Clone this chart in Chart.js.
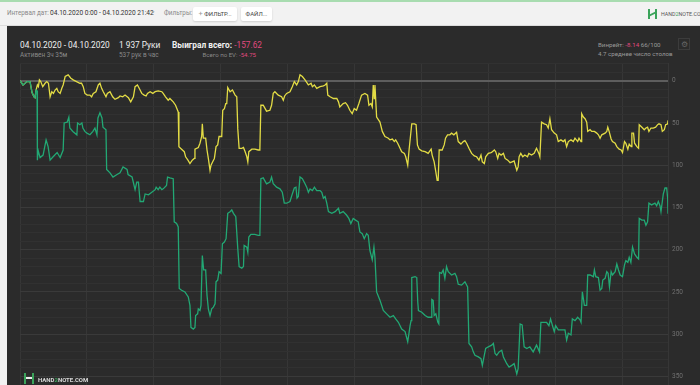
<!DOCTYPE html>
<html><head><meta charset="utf-8">
<script src="https://cdn.jsdelivr.net/npm/chart.js@4.4.1/dist/chart.umd.min.js"></script>
<style>
html,body{margin:0;padding:0;width:700px;height:385px;overflow:hidden;background:#f2f2f2;font-family:Roboto,"Noto Sans",sans-serif;}
#topline{position:absolute;left:0;top:0;width:700px;height:2px;background:#a8dcb0;}
#bar{position:absolute;left:0;top:2px;width:700px;height:23px;background:#f2f2f2;border-bottom:1px solid #dcdcdc;}
.t{position:absolute;white-space:nowrap;}
#panel{position:absolute;left:7px;top:26px;width:693px;height:359px;background:#2b2b2b;}
#wrap{position:absolute;left:0;top:0;width:700px;height:400px;}
.btn{position:absolute;height:14px;background:#fff;border-radius:2px;box-shadow:0 1px 2px rgba(0,0,0,0.15);font-size:6px;color:#444;line-height:14px;text-align:center;}
.pink{color:#e0497f;}
</style></head>
<body>
<div id="topline"></div>
<div id="bar">
  <div class="t" style="left:7px;top:7px;font-size:6.3px;color:#888;">Интервал дат:</div>
  <div class="t" style="left:50px;top:6.5px;font-size:6.6px;color:#333;">04.10.2020 0:00 - 04.10.2020 21:42</div>
  <div class="t" style="left:150px;top:5px;font-size:7px;color:#999;">⌄</div>
  <div class="t" style="left:164px;top:7px;font-size:6.3px;color:#888;">Фильтры:</div>
  <div class="btn" style="left:193px;width:44px;top:5px;"><span style="color:#999;font-size:7.5px;">+</span> ФИЛЬТР...</div>
  <div class="btn" style="left:241px;width:31px;top:5px;">ФАЙЛ...</div>
  <div class="t" style="left:648px;top:7px;width:9px;height:10px;border-left:2px solid #3aa35a;border-right:2px solid #3aa35a;box-sizing:border-box;"></div>
  <div class="t" style="left:649px;top:11px;width:7px;height:2px;background:#3aa35a;transform:skewY(-25deg);"></div>
  <div class="t" style="left:661px;top:8.5px;font-size:5.3px;color:#555;">HAND<span style="color:#3aa35a;">2</span>NOTE.COM</div>
</div>
<div id="panel"></div>
<div class="t" style="left:20px;top:40px;font-size:8.3px;color:#f0f0f0;">04.10.2020 - 04.10.2020</div>
<div class="t" style="left:20px;top:51px;font-size:6.4px;color:#8a8a8a;">Активен 3ч 35м</div>
<div class="t" style="left:119px;top:40px;font-size:8.3px;color:#f0f0f0;">1 937 Руки</div>
<div class="t" style="left:119px;top:51px;font-size:6.4px;color:#8a8a8a;">537 рук в час</div>
<div class="t" style="left:172px;top:40px;font-size:8.3px;color:#f0f0f0;font-weight:bold;">Выиграл всего: <span class="pink" style="font-weight:normal;">-157.62</span></div>
<div class="t" style="right:444px;top:51px;font-size:6.1px;color:#8a8a8a;">Всего по EV: <span class="pink">-54.75</span></div>
<div class="t" style="left:598px;top:41px;font-size:6.2px;color:#9a9a9a;">Винрейт: <span class="pink">-8.14</span> 66/100</div>
<div class="t" style="left:598px;top:50px;font-size:6.2px;color:#9a9a9a;">4.7 среднее число столов</div>
<div class="t" style="left:678px;top:38px;width:12px;height:12px;border:1px solid #3c3c3c;box-sizing:border-box;font-size:8px;color:#666;text-align:center;line-height:11px;">⚙</div>
<div id="wrap"><canvas id="c" width="700" height="400"></canvas></div>
<div class="t" style="left:24px;top:373px;width:10px;height:11px;border-left:2px solid #3aa35a;border-right:2px solid #3aa35a;box-sizing:border-box;"></div>
<div class="t" style="left:26px;top:377px;width:6px;height:2px;background:#eee;"></div>
<div class="t" style="left:38px;top:375.5px;font-size:6px;color:#d8d8d8;font-weight:bold;">HAND<span style="color:#3aa35a;">2</span>NOTE.COM</div>
<script>
const greenHands = [0,9,21,30,36,42,45,48,51,52,54,60,69,78,84,90,99,111,120,129,132,141,146,149,158,170,172,179,185,188,194,200,209,218,224,230,233,239,245,248,257,259,269,278,290,299,308,320,323,335,344,349,354,359,369,374,384,394,404,407,413,418,424,428,438,441,448,458,461,468,473,476,483,493,503,508,511,518,523,525,531,533,538,541,545,549,555,559,563,568,573,578,583,586,591,595,601,605,611,616,621,628,633,638,645,651,655,663,668,670,678,681,684,690,702,712,717,720,727,737,747,752,757,767,777,784,790,797,807,814,820,825,828,832,837,844,852,857,862,867,874,880,887,897,902,907,912,917,922,932,942,952,956,966,976,983,989,996,1003,1011,1016,1023,1029,1036,1041,1046,1053,1058,1061,1066,1076,1086,1096,1106,1116,1123,1131,1141,1151,1159,1166,1169,1171,1181,1186,1189,1191,1201,1211,1220,1229,1231,1235,1238,1243,1249,1252,1254,1260,1265,1270,1275,1280,1290,1300,1305,1310,1320,1330,1338,1342,1350,1355,1360,1370,1378,1382,1388,1392,1400,1410,1415,1420,1425,1432,1440,1445,1455,1462,1470,1477,1485,1489,1495,1501,1507,1515,1524,1534,1544,1553,1557,1574,1581,1586,1591,1597,1601,1609,1619,1629,1634,1639,1647,1651,1659,1667,1674,1677,1681,1687,1694,1697,1704,1714,1717,1721,1729,1734,1739,1742,1749,1754,1758,1762,1767,1771,1779,1784,1789,1794,1801,1807,1811,1817,1821,1826,1831,1837,1844,1849,1851,1859,1866,1871,1876,1880,1888,1898,1903,1908,1913,1916,1920,1923,1928,1933,1936,1937];
const greenValues = [0,5,1,1,14,19,20,11,12,94,82,91,88,70,78,94,90,85,91,82,50,49,43,56,60,64,50,52,50,56,60,62,64,60,56,64,44,38,44,55,58,105,109,114,111,109,102,105,111,114,129,120,120,143,143,134,135,132,129,126,129,126,129,128,124,114,115,116,167,169,173,246,248,250,256,266,292,294,292,278,276,270,272,266,207,224,224,254,270,278,270,268,264,238,236,226,228,193,191,187,157,155,153,157,161,199,220,222,220,195,197,203,185,182,182,183,183,116,115,122,120,114,122,126,128,132,145,145,143,134,127,126,139,137,114,116,122,126,132,128,130,126,130,130,132,139,137,145,155,157,155,151,157,155,159,163,169,163,165,167,179,181,187,181,183,201,212,197,209,250,260,272,276,280,278,282,286,294,297,309,290,284,233,232,233,262,272,274,278,280,280,259,260,278,276,286,288,227,228,224,234,220,226,230,228,232,241,242,238,244,311,315,321,325,327,329,337,325,317,315,313,311,323,325,321,319,327,335,339,337,335,347,341,288,289,315,317,315,321,313,321,286,286,290,282,289,297,290,295,295,295,307,299,301,282,284,280,283,286,250,266,266,230,230,232,224,232,233,248,246,236,234,226,228,244,226,230,226,217,224,230,232,218,213,215,209,215,197,205,209,211,163,165,165,171,167,145,147,145,148,143,148,155,143,134,127,127,139,157.6];
const yellowHands = [0,9,21,30,36,42,45,48,52,55,58,62,68,75,80,85,90,95,100,105,110,114,120,125,129,135,144,152,159,169,179,184,189,194,201,209,214,219,227,234,239,244,249,257,261,269,277,284,294,299,307,314,324,331,339,344,351,359,364,371,377,381,389,397,404,413,424,428,435,443,448,458,465,473,475,483,491,495,502,508,515,521,523,533,538,543,545,548,555,559,563,568,571,576,581,586,591,595,603,606,611,615,618,621,628,635,643,648,651,655,663,668,673,678,681,684,693,702,712,717,720,727,737,747,752,757,762,772,782,787,791,797,807,814,820,827,832,837,844,852,862,870,874,880,887,897,907,912,917,920,927,937,947,952,956,966,973,979,986,993,999,1006,1013,1021,1031,1039,1043,1049,1053,1056,1059,1061,1066,1076,1083,1091,1101,1106,1113,1119,1123,1129,1136,1141,1149,1153,1159,1163,1171,1179,1184,1188,1193,1201,1211,1220,1229,1232,1238,1243,1247,1250,1253,1262,1268,1272,1278,1285,1290,1297,1305,1310,1318,1325,1330,1335,1342,1350,1358,1365,1372,1378,1382,1388,1392,1400,1408,1412,1418,1422,1428,1432,1438,1445,1450,1458,1465,1471,1477,1485,1489,1492,1497,1503,1509,1517,1521,1529,1537,1544,1551,1554,1559,1567,1574,1579,1584,1589,1597,1604,1609,1617,1624,1629,1634,1639,1647,1654,1659,1667,1671,1677,1679,1684,1689,1694,1697,1704,1709,1717,1724,1729,1734,1739,1749,1754,1757,1761,1767,1771,1779,1784,1791,1797,1801,1807,1811,1817,1821,1827,1829,1834,1837,1844,1849,1851,1859,1866,1871,1876,1880,1886,1893,1900,1906,1910,1916,1920,1926,1930,1936,1937];
const yellowValues = [0,5,1,1,14,19,20,11,5,7,-1,1,7,3,1,3,19,13,15,11,9,13,15,9,5,-5,-7,-3,-1,1,3,3,7,15,17,17,19,15,13,5,3,9,13,19,15,13,19,22,20,18,19,17,20,25,19,7,5,11,15,17,18,15,13,15,13,12,13,15,19,23,21,25,29,37,78,81,84,90,94,98,94,92,81,79,74,66,51,68,68,82,92,106,100,96,92,78,76,66,66,35,33,27,27,8,13,11,17,19,57,80,80,79,84,90,96,84,81,81,82,82,29,29,36,35,29,15,13,17,19,23,18,15,13,7,1,5,1,-7,-5,-1,5,3,7,5,9,7,6,5,3,17,19,21,21,25,31,27,26,29,35,39,33,35,27,17,15,17,29,27,31,5,21,5,43,49,60,66,68,70,69,72,70,74,80,84,86,90,100,82,51,51,52,76,81,83,84,86,81,88,96,108,118,118,82,82,76,68,64,64,62,64,61,72,75,72,71,74,80,86,89,90,94,88,96,98,90,86,85,84,82,84,92,86,88,86,92,94,97,96,95,106,102,90,86,90,88,90,86,88,86,80,86,90,49,51,52,56,45,58,62,64,72,70,72,70,78,72,70,72,68,72,68,72,39,43,45,49,60,58,60,60,62,64,68,64,62,60,55,60,69,72,74,78,81,82,85,72,74,81,75,78,62,62,74,78,80,52,55,58,56,55,60,56,56,55,52,51,52,60,58,52,51,47];
const yTickLabels = [0,50,100,150,200,250,300,350];

const toPts = (xs, ys) => xs.map((h, i) => ({x: h, y: ys[i]}));

new Chart(document.getElementById('c'), {
  type: 'line',
  data: {
    datasets: [
      {label: 'Won', data: toPts(greenHands, greenValues), borderColor: '#22a874', borderWidth: 1.3, pointRadius: 0, tension: 0, fill: false},
      {label: 'EV', data: toPts(yellowHands, yellowValues), borderColor: '#e3dc45', borderWidth: 1.3, pointRadius: 0, tension: 0, fill: false}
    ]
  },
  options: {
    responsive: false, animation: false,
    layout: {padding: {left: 20, top: 63, right: 0, bottom: 13.5}},
    plugins: {legend: {display: false}, tooltip: {enabled: false}},
    scales: {
      x: {type: 'linear', min: 0, max: 1937,
          ticks: {display: false, stepSize: 200},
          grid: {color: '#363636', lineWidth: 1, drawTicks: false},
          border: {display: false},
          afterFit: s => { s.height = 0; }},
      y: {type: 'linear', position: 'right', reverse: true, min: -21, max: 362,
          ticks: {stepSize: 10, padding: 4, autoSkip: false, color: '#707070', font: {family: 'Roboto', size: 6.5},
                  callback: v => yTickLabels.includes(v) ? String(v) : ''},
          grid: {drawTicks: false,
                 color: c => c.tick.value === 0 ? '#5e5e5e' : (c.tick.value % 50 === 0 || c.index === 0 ? '#3a3a3a' : '#313131'),
                 lineWidth: c => c.tick.value === 0 ? 2 : 1},
          border: {display: false},
          afterFit: s => { s.width = 32; }}
    }
  }
});
</script>
</body></html>
